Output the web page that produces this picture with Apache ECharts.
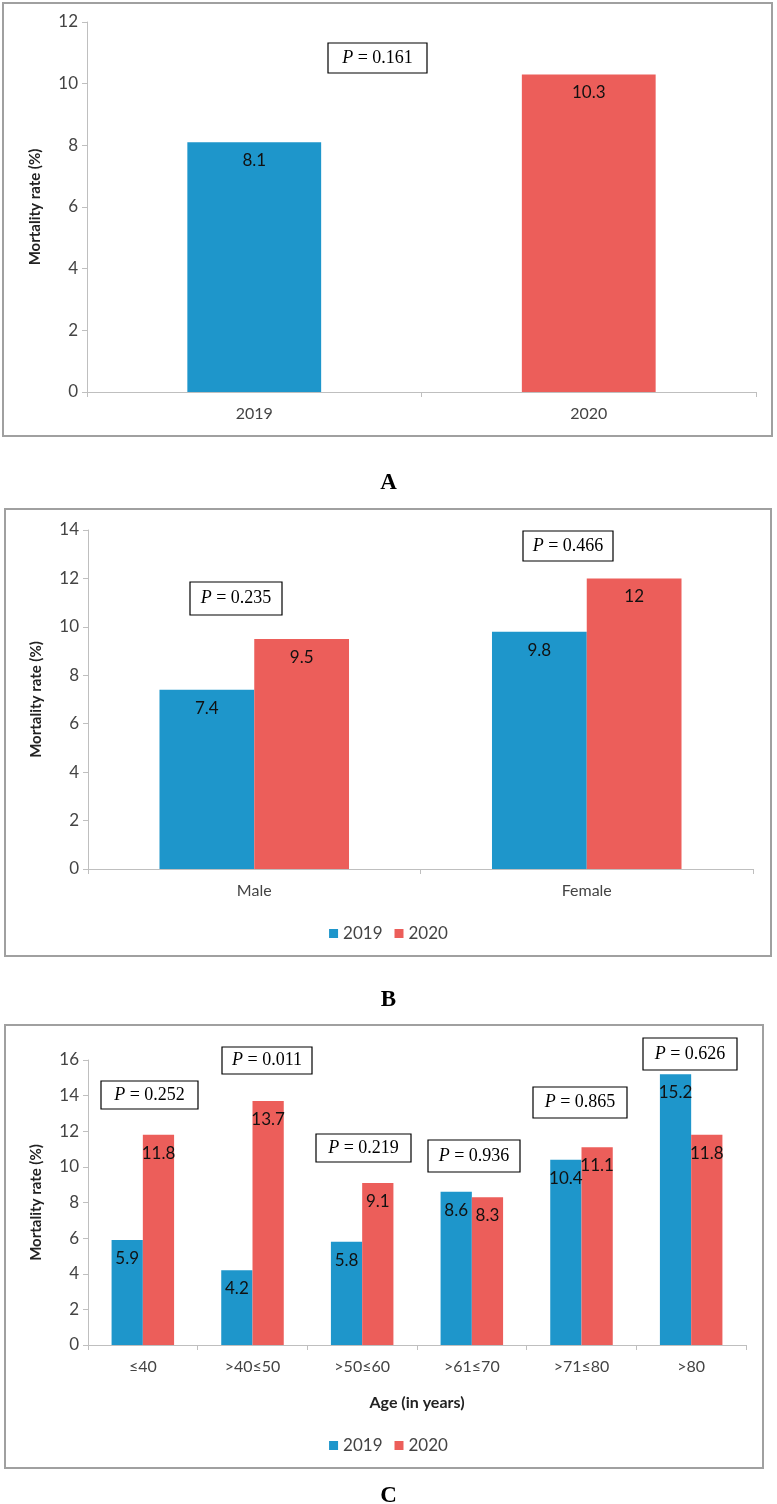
<!DOCTYPE html>
<html>
<head>
<meta charset="utf-8">
<script src="https://cdn.jsdelivr.net/npm/echarts@6/dist/echarts.min.js"></script>
<style>
  html, body { margin: 0; padding: 0; background: #fff; }
  #myCharts { width: 777px; height: 1504px; }
</style>
</head>
<body>
<div id="myCharts"></div>
<script>
  // panel A
  var yearsA = ['2019', '2020'];
  var ratesA = [8.1, 10.3];
  // panel B
  var sexB = ['Male', 'Female'];
  var rate2019B = [7.4, 9.8];
  var rate2020B = [9.5, 12];
  // panel C
  var ageC = ['≤40', '>40≤50', '>50≤60', '>61≤70', '>71≤80', '>80'];
  var rate2019C = [5.9, 4.2, 5.8, 8.6, 10.4, 15.2];
  var rate2020C = [11.8, 13.7, 9.1, 8.3, 11.1, 11.8];
  // p values shown in boxes
  var pA = ['0.161'];
  var pB = ['0.235', '0.466'];
  var pC = ['0.252', '0.011', '0.219', '0.936', '0.865', '0.626'];

  var BLUE = '#1e96cb';
  var RED = '#ec5e5a';
  var FONT = 'Lato';

  // box placement [x, y, w, h] in page pixels
  var boxA = [[328, 43, 99, 30]];
  var boxB = [[190, 582, 92, 33], [523, 531, 90, 30]];
  var boxC = [[101, 1081, 97, 28], [222, 1047, 90, 27], [316, 1134, 95, 28],
              [428, 1140, 92, 32], [533, 1087, 94, 31], [643, 1038, 94, 32]];

  function yAxis(idx, max) {
    return {
      type: 'value', gridIndex: idx, min: 0, max: max, interval: 2,
      name: 'Mortality rate (%)', nameLocation: 'middle', nameGap: 44,
      nameTextStyle: { fontFamily: FONT, fontWeight: 'bold', fontSize: 15, color: '#222' },
      axisLine: { show: true, lineStyle: { color: '#bfbfbf' } },
      axisTick: { show: true, length: 5, lineStyle: { color: '#bfbfbf' } },
      axisLabel: { fontFamily: FONT, fontSize: 17, color: '#444', margin: 9 },
      splitLine: { show: false }
    };
  }
  function xAxis(idx, cats) {
    return {
      type: 'category', gridIndex: idx, data: cats,
      axisLine: { lineStyle: { color: '#bfbfbf' } },
      axisTick: { show: true, length: 5, lineStyle: { color: '#bfbfbf' } },
      axisLabel: { fontFamily: FONT, fontSize: 16, color: '#444', margin: 14 }
    };
  }
  function label() {
    return { show: true, position: 'insideTop', distance: 10, fontFamily: FONT, fontSize: 17, color: '#111' };
  }
  function pBoxes(list, boxes) {
    return list.map(function (p, i) {
      var b = boxes[i];
      return {
        type: 'group', x: b[0], y: b[1],
        children: [
          { type: 'rect', shape: { x: 0, y: 0, width: b[2], height: b[3] },
            style: { fill: '#fff', stroke: '#000', lineWidth: 1.2 } },
          { type: 'text', x: b[2] / 2, y: b[3] / 2,
            style: { text: '{i|P} = ' + p, align: 'center', verticalAlign: 'middle',
              fontFamily: 'Liberation Serif', fontSize: 18, fill: '#000',
              rich: { i: { fontStyle: 'italic', fontFamily: 'Liberation Serif', fontSize: 18 } } } }
        ]
      };
    });
  }
  function frame(x, y, w, h) {
    return { type: 'rect', shape: { x: x, y: y, width: w, height: h },
      style: { fill: 'none', stroke: '#a0a0a0', lineWidth: 2 }, z: -1 };
  }

  var xC = xAxis(2, ageC);
  xC.name = 'Age (in years)';
  xC.nameLocation = 'middle';
  xC.nameGap = 50;
  xC.nameTextStyle = { fontFamily: FONT, fontWeight: 'bold', fontSize: 16, color: '#222' };

  var legendText = { fontFamily: FONT, fontSize: 17, color: '#444' };

  var option = {
    animation: false,
    backgroundColor: '#fff',
    title: [
      { text: 'A', left: 'center', top: 467 },
      { text: 'B', left: 'center', top: 984 },
      { text: 'C', left: 'center', top: 1480 }
    ].map(function (t) {
      t.textStyle = { fontFamily: 'Liberation Serif', fontWeight: 'bold', fontSize: 23, color: '#000' };
      return t;
    }),
    legend: [
      { data: ['2019', '2020'], top: 920, left: 'center', icon: 'rect', itemWidth: 9, itemHeight: 9, itemGap: 12,
        textStyle: legendText, seriesIndex: [1, 2] },
      { data: ['2019', '2020'], top: 1432, left: 'center', icon: 'rect', itemWidth: 9, itemHeight: 9, itemGap: 12,
        textStyle: legendText }
    ],
    grid: [
      { left: 87, top: 22, width: 669, height: 370 },
      { left: 88, top: 530, width: 665, height: 339 },
      { left: 88, top: 1060, width: 658, height: 285 }
    ],
    xAxis: [xAxis(0, yearsA), xAxis(1, sexB), xC],
    yAxis: [yAxis(0, 12), yAxis(1, 14), yAxis(2, 16)],
    series: [
      { type: 'bar', xAxisIndex: 0, yAxisIndex: 0, barWidth: '40%',
        data: ratesA.map(function (v, i) { return { value: v, itemStyle: { color: i === 0 ? BLUE : RED } }; }),
        label: label() },
      { name: '2019', type: 'bar', xAxisIndex: 1, yAxisIndex: 1, data: rate2019B, itemStyle: { color: BLUE },
        barGap: '0%', barCategoryGap: '43%', label: label() },
      { name: '2020', type: 'bar', xAxisIndex: 1, yAxisIndex: 1, data: rate2020B, itemStyle: { color: RED },
        barGap: '0%', barCategoryGap: '43%', label: label() },
      { name: '2019', type: 'bar', xAxisIndex: 2, yAxisIndex: 2, data: rate2019C, itemStyle: { color: BLUE },
        barGap: '0%', barCategoryGap: '43%', label: label() },
      { name: '2020', type: 'bar', xAxisIndex: 2, yAxisIndex: 2, data: rate2020C, itemStyle: { color: RED },
        barGap: '0%', barCategoryGap: '43%', label: label() }
    ],
    graphic: [
      frame(3, 3, 769, 433),
      frame(5, 509, 766, 447),
      frame(5, 1025, 758, 443)
    ].concat(pBoxes(pA, boxA), pBoxes(pB, boxB), pBoxes(pC, boxC))
  };

  var mychart = echarts.init(document.getElementById('myCharts'));
  mychart.setOption(option);
  window.onresize = mychart.resize;
</script>
</body>
</html>
